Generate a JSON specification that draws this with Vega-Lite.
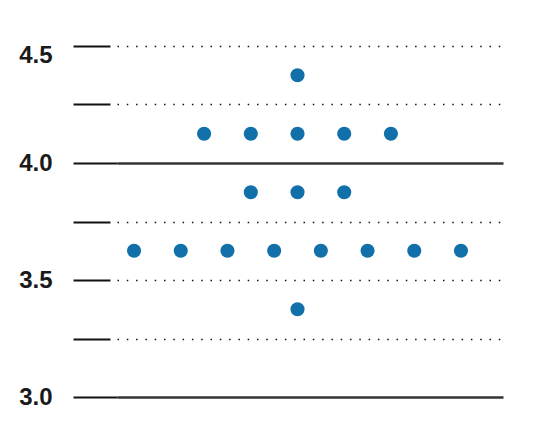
{
  "$schema": "https://vega.github.io/schema/vega-lite/v6.json",
  "autosize": "none",
  "width": 386,
  "height": 351,
  "padding": {"left": 117, "top": 46, "right": 30, "bottom": 33},
  "background": "white",
  "data": {
    "values": [
      {"pos": 0, "value": 4.375},
      {"pos": -2, "value": 4.125},
      {"pos": -1, "value": 4.125},
      {"pos": 0, "value": 4.125},
      {"pos": 1, "value": 4.125},
      {"pos": 2, "value": 4.125},
      {"pos": -1, "value": 3.875},
      {"pos": 0, "value": 3.875},
      {"pos": 1, "value": 3.875},
      {"pos": -3.5, "value": 3.625},
      {"pos": -2.5, "value": 3.625},
      {"pos": -1.5, "value": 3.625},
      {"pos": -0.5, "value": 3.625},
      {"pos": 0.5, "value": 3.625},
      {"pos": 1.5, "value": 3.625},
      {"pos": 2.5, "value": 3.625},
      {"pos": 3.5, "value": 3.625},
      {"pos": 0, "value": 3.375}
    ]
  },
  "mark": {"type": "circle", "size": 200, "opacity": 1, "color": "#1170aa"},
  "encoding": {
    "x": {
      "field": "pos",
      "type": "quantitative",
      "scale": {"domain": [-3.865, 4.4], "nice": false, "zero": false},
      "axis": null
    },
    "y": {
      "field": "value",
      "type": "quantitative",
      "scale": {"domain": [3, 4.5], "nice": false, "zero": false},
      "axis": {
        "title": null,
        "values": [3, 3.25, 3.5, 3.75, 4, 4.25, 4.5],
        "domain": false,
        "tickSize": 44,
        "tickWidth": 1.8,
        "tickColor": "#111",
        "tickDash": {"condition": {"test": "datum.value == 3 || datum.value == 4", "value": []}, "value": [0, 7, 37, 100]},
        "gridColor": {"condition": {"test": "datum.value == 3 || datum.value == 4", "value": "#333"}, "value": "#111"},
        "gridWidth": {"condition": {"test": "datum.value == 3 || datum.value == 4", "value": 2.6}, "value": 1.6},
        "gridDash": {"condition": {"test": "datum.value == 3 || datum.value == 4", "value": []}, "value": [1.5, 7.8]},
        "labelExpr": "datum.value == 3 || datum.value == 3.5 || datum.value == 4 || datum.value == 4.5 ? format(datum.value, '.1f') : ''",
        "labelFont": "Liberation Sans",
        "labelFontSize": 24,
        "labelFontWeight": "bold",
        "labelColor": "#1a1a1a",
        "labelPadding": 21,
        "labelBaseline": {"condition": {"test": "datum.value == 4.5", "value": "top"}, "value": "middle"},
        "labelOffset": {"condition": {"test": "datum.value == 4.5", "value": -3}, "value": 0},
        "labelFlush": false
      }
    }
  },
  "config": {"view": {"stroke": null}}
}
